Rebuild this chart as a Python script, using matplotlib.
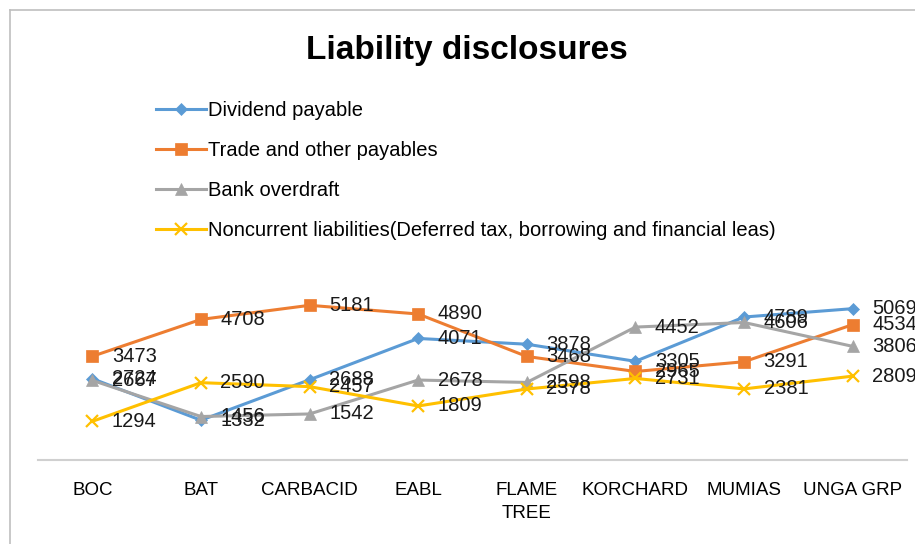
import matplotlib
matplotlib.use("Agg")
import matplotlib.pyplot as plt
from matplotlib.lines import Line2D

plt.rcParams['font.family'] = ['Liberation Sans', 'DejaVu Sans']

companies = ['BOC', 'BAT', 'CARBACID', 'EABL', 'FLAME\nTREE', 'KORCHARD', 'MUMIAS', 'UNGA GRP']
dividend = [2724, 1332, 2688, 4071, 3878, 3305, 4789, 5069]
trade = [3473, 4708, 5181, 4890, 3468, 2965, 3291, 4534]
overdraft = [2667, 1456, 1542, 2678, 2598, 4452, 4606, 3806]
noncurrent = [1294, 2590, 2457, 1809, 2378, 2731, 2381, 2809]

series_names = ['Dividend payable', 'Trade and other payables', 'Bank overdraft',
                'Noncurrent liabilities(Deferred tax, borrowing and financial leas)']
colors = ['#5B9BD5', '#ED7D31', '#A5A5A5', '#FFC000']
markers = ['D', 's', '^', 'x']
msizes = [6.5, 8, 8, 9]

W, H = 915, 544
fig = plt.figure(figsize=(W / 100, H / 100), dpi=100)

# chart border (cut off at right and bottom like the screenshot)
fig.add_artist(Line2D([10 / W, 10 / W], [0, 1 - 10 / H], color='#BFBFBF', lw=1.2))
fig.add_artist(Line2D([10 / W, 1], [1 - 10 / H, 1 - 10 / H], color='#BFBFBF', lw=1.2))

ax = fig.add_axes([38 / W, (H - 460) / H, 869 / W, 209 / H])
x = list(range(len(companies)))
all_series = [dividend, trade, overdraft, noncurrent]
handles = []
for vals, name, c, m, ms in zip(all_series, series_names, colors, markers, msizes):
    ln, = ax.plot(x, vals, color=c, lw=2.2, marker=m, markersize=ms,
                  markeredgewidth=1.6 if m == 'x' else 0.5, label=name)
    handles.append(ln)
    for xi, v in zip(x, vals):
        ax.annotate(str(v), (xi, v), xytext=(14, 0), textcoords='offset points',
                    ha='left', va='center', fontsize=14.5, color='#1a1a1a')

ax.set_xlim(-0.5, len(companies) - 0.5)
ax.set_ylim(0, 7000)
ax.set_xticks(x)
ax.set_xticklabels(companies, fontsize=13.5, linespacing=1.45)
ax.tick_params(axis='x', length=0, pad=16)
ax.set_yticks([])
for s in ['left', 'right', 'top']:
    ax.spines[s].set_visible(False)
ax.spines['bottom'].set_color('#D0D0D0')
ax.spines['bottom'].set_linewidth(1.5)
ax.patch.set_alpha(0)

fig.text(467 / W, 1 - 51 / H, 'Liability disclosures', ha='center', va='center',
         fontsize=24, fontweight='bold', family=['Liberation Sans Narrow', 'Liberation Sans'])

fig.legend(handles=handles, loc='upper left', bbox_to_anchor=(148 / W, 1 - 93 / H),
           frameon=False, fontsize=14.5, labelspacing=1.05, handlelength=2.5,
           handletextpad=0.1, borderaxespad=0)

fig.savefig('out.png', dpi=100)
